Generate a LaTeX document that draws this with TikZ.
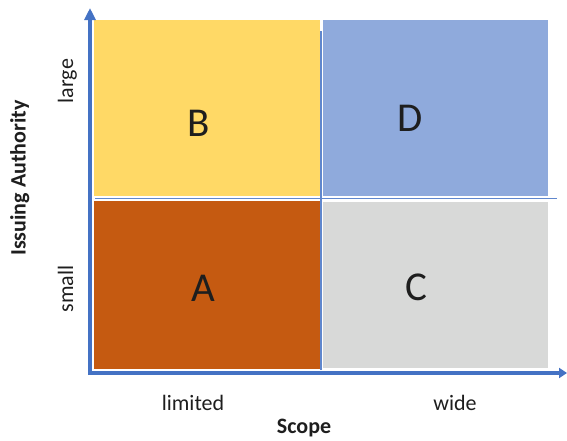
\documentclass[tikz,border=0pt]{standalone}
\usepackage{fontspec}
\setmainfont{Carlito}
\usetikzlibrary{arrows.meta}
\definecolor{axisblue}{HTML}{4472C4}
\definecolor{cellyellow}{HTML}{FFD966}
\definecolor{cellblue}{HTML}{8FAADC}
\definecolor{cellorange}{HTML}{C55A11}
\definecolor{cellgray}{HTML}{D8D9D8}
\definecolor{txt}{HTML}{1E1E1E}
\tikzset{
  cellbox/.style={draw=none, inner sep=0pt, anchor=north west},
  bigletter/.style={font=\fontsize{41}{41}\selectfont, text=txt, inner sep=0pt},
  axlabel/.style={font=\fontsize{22}{22}\selectfont, text=txt, inner sep=0pt, anchor=base},
  axtitle/.style={font=\fontsize{22}{22}\selectfont\bfseries, text=txt, inner sep=0pt, anchor=base},
  axisline/.style={draw=axisblue, line width=4pt},
  divider/.style={draw=axisblue!85, line width=1.6pt}
}
\begin{document}
\begin{tikzpicture}[x=1pt,y=-1pt]
\useasboundingbox (0,0) rectangle (567,440);
% cells
\node[cellbox, fill=cellyellow, minimum width=225.5pt, minimum height=176pt] (B) at (94,20) {};
\node[cellbox, fill=cellblue, minimum width=225.3pt, minimum height=176pt] (D) at (322.7,20) {};
\node[cellbox, fill=cellorange, minimum width=225.5pt, minimum height=168.5pt] (A) at (94,200.5) {};
\node[cellbox, fill=cellgray, minimum width=225.3pt, minimum height=166.5pt] (C) at (322.7,201.5) {};
% dividers
\coordinate (vtop) at (321,31);
\coordinate (vbot) at (321,370);
\coordinate (hleft) at (95,198.3);
\coordinate (hright) at (557,198.3);
\draw[divider] (vtop) -- (vbot);
\draw[divider] (hleft) -- (hright);
% axes
\coordinate (yorig) at (90,375);
\coordinate (ytip) at (90,8);
\coordinate (xorig) at (88,373);
\coordinate (xtip) at (567,373);
\draw[axisline, -{Triangle[length=12pt,width=11pt]}] (yorig) -- (ytip);
\draw[axisline, -{Triangle[length=8pt,width=10pt]}] (xorig) -- (xtip);
% letters
\node[bigletter] (lB) at (199,123) {B};
\node[bigletter] (lD) at (410.5,118) {D};
\node[bigletter] (lA) at (203,288) {A};
\node[bigletter] (lC) at (416,287) {C};
% axis labels
\node[axlabel] (limited) at (193,410) {limited};
\node[axlabel] (wide) at (455,410) {wide};
\node[axtitle] (scope) at (304,433) {Scope};
\node[axlabel, rotate=90] (large) at (73,81) {large};
\node[axlabel, rotate=90] (small) at (73,289) {small};
\node[axtitle, rotate=90] (issuing) at (25.5,178) {Issuing Authority};
\end{tikzpicture}
\end{document}
